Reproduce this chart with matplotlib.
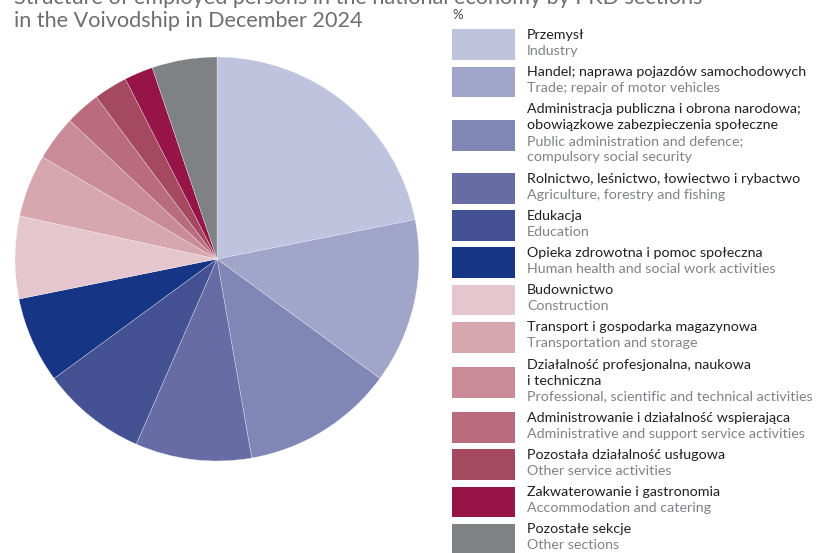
import matplotlib
matplotlib.use("Agg")
import matplotlib.pyplot as plt
from matplotlib.patches import Rectangle

plt.rcParams['font.family'] = ['Lato', 'DejaVu Sans']

# data (%)
labels_pl = ["Przemysł",
             "Handel; naprawa pojazdów samochodowych",
             "Administracja publiczna i obrona narodowa;\nobowiązkowe zabezpieczenia społeczne",
             "Rolnictwo, leśnictwo, łowiectwo i rybactwo",
             "Edukacja",
             "Opieka zdrowotna i pomoc społeczna",
             "Budownictwo",
             "Transport i gospodarka magazynowa",
             "Działalność profesjonalna, naukowa\ni techniczna",
             "Administrowanie i działalność wspierająca",
             "Pozostała działalność usługowa",
             "Zakwaterowanie i gastronomia",
             "Pozostałe sekcje"]
labels_en = ["Industry",
             "Trade; repair of motor vehicles",
             "Public administration and defence;\ncompulsory social security",
             "Agriculture, forestry and fishing",
             "Education",
             "Human health and social work activities",
             "Construction",
             "Transportation and storage",
             "Professional, scientific and technical activities",
             "Administrative and support service activities",
             "Other service activities",
             "Accommodation and catering",
             "Other sections"]
shares = [21.9, 13.2, 12.2, 9.3, 8.4, 6.9, 6.6, 5.0, 3.6, 2.8, 2.7, 2.3, 5.2]
colors = ["#bfc3de", "#a2a5ca", "#8087b6", "#676ca5", "#445193", "#163584",
          "#e6c6ce", "#d6a7af", "#c88b97", "#b86c7e", "#a54961", "#961446",
          "#808184"]

W, H = 819, 553
fig = plt.figure(figsize=(W / 100, H / 100), dpi=100)

# pie: centre (217, 259) px, radius 202 px
cx, cy, r = 217, 259, 202
ax = fig.add_axes([(cx - r) / W, (H - cy - r) / H, 2 * r / W, 2 * r / H])
ax.pie(shares, colors=colors, startangle=90, counterclock=False,
       wedgeprops=dict(edgecolor="white", linewidth=0.2))
ax.set_xlim(-1, 1)
ax.set_ylim(-1, 1)
ax.set_aspect("equal")

# overlay in pixel coordinates for title + legend
lax = fig.add_axes([0, 0, 1, 1])
lax.set_xlim(0, W)
lax.set_ylim(H, 0)
lax.axis("off")

title_col = "#6d6e71"
lax.text(14, 4, "Structure of employed persons in the national economy by PKD sections",
         fontsize=15.6, color=title_col, va="baseline", ha="left")
lax.text(14, 27, "in the Voivodship in December 2024",
         fontsize=15.6, color=title_col, va="baseline", ha="left")
lax.text(452, 19, "%", fontsize=9.5, color="#444444", va="baseline", ha="left")

line_h = 16
gap = 5.2
y = 39
for pl, en, c in zip(labels_pl, labels_en, colors):
    pl_lines = pl.split("\n")
    en_lines = en.split("\n")
    n = len(pl_lines) + len(en_lines)
    last = y + (n - 1) * line_h
    mid = (y + last) / 2 - 2.25
    lax.add_patch(Rectangle((452, mid - 15.4), 63, 30.8, facecolor=c, edgecolor="none"))
    for i, t in enumerate(pl_lines):
        lax.text(527, y + i * line_h, t, fontsize=10.3, color="#231f20",
                 va="baseline", ha="left")
    for i, t in enumerate(en_lines):
        lax.text(527, y + (len(pl_lines) + i) * line_h, t, fontsize=10.3,
                 color="#808285", va="baseline", ha="left")
    y += n * line_h + gap

fig.savefig("out.png", dpi=100)
